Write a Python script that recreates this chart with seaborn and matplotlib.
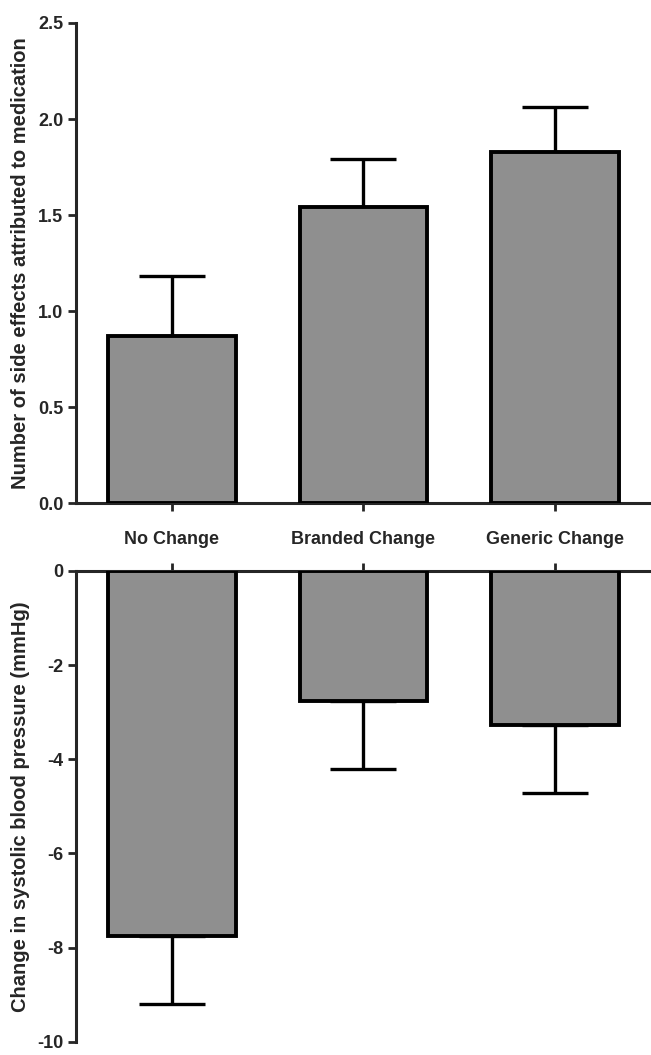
import matplotlib
matplotlib.use("Agg")
import matplotlib.pyplot as plt
import seaborn as sns
import pandas as pd

groups = ["No Change", "Branded Change", "Generic Change"]
side_effects = [0.87, 1.54, 1.83]
side_effects_err = [0.31, 0.25, 0.23]
sbp_change = [-7.75, -2.76, -3.28]
sbp_err = [1.44, 1.44, 1.44]

sns.set_style("ticks")
plt.rcParams["font.family"] = ["Liberation Sans", "DejaVu Sans"]
plt.rcParams["font.weight"] = "bold"
plt.rcParams["axes.unicode_minus"] = False

df = pd.DataFrame({"group": groups, "side": side_effects, "sbp": sbp_change})

fig = plt.figure(figsize=(6.51, 10.55), dpi=100)
ax1 = fig.add_axes([0.1167, 0.5232, 0.8833, 0.455])
ax2 = fig.add_axes([0.1167, 0.0125, 0.8833, 0.4463])

bar_col = "#8f8f8f"
for ax, col, err, sign in [(ax1, "side", side_effects_err, 1), (ax2, "sbp", sbp_err, -1)]:
    sns.barplot(data=df, x="group", y=col, ax=ax, color=bar_col, width=0.667,
                edgecolor="black", linewidth=2.8, saturation=1, errorbar=None, zorder=3)
    yerr = [[0] * 3, err] if sign > 0 else [err, [0] * 3]
    ax.errorbar(range(3), df[col], yerr=yerr, fmt="none", ecolor="black",
                elinewidth=2.4, capsize=24, capthick=2.4, zorder=2)
    ax.set_xlim(-0.5, 2.5)
    ax.set_xlabel("")
    for s in ax.spines.values():
        s.set_linewidth(2.2)
    ax.tick_params(axis="both", width=2, length=5.5)

# top panel
ax1.set_ylim(0, 2.5)
ax1.set_yticks([0, 0.5, 1.0, 1.5, 2.0, 2.5])
ax1.set_yticklabels([f"{v:.1f}" for v in [0, 0.5, 1.0, 1.5, 2.0, 2.5]], fontweight="bold", fontsize=13)
ax1.set_xticks(range(3))
ax1.set_xticklabels(groups, fontweight="bold", fontsize=13)
ax1.tick_params(axis="x", pad=15)
ax1.spines["top"].set_visible(False)
ax1.spines["right"].set_visible(False)
ax1.set_ylabel("Number of side effects attributed to medication", fontsize=14.5, fontweight="bold")
ax1.yaxis.set_label_coords(-0.08, 0.5)

# bottom panel
ax2.set_ylim(-10, 0)
ax2.set_yticks([0, -2, -4, -6, -8, -10])
ax2.set_yticklabels(["0", "-2", "-4", "-6", "-8", "-10"], fontweight="bold", fontsize=13)
ax2.set_xticks(range(3))
ax2.xaxis.tick_top()
ax2.tick_params(axis="x", labeltop=False, labelbottom=False)
ax2.spines["bottom"].set_visible(False)
ax2.spines["right"].set_visible(False)
ax2.set_ylabel("Change in systolic blood pressure (mmHg)", fontsize=14.5, fontweight="bold")
ax2.yaxis.set_label_coords(-0.08, 0.5)

fig.savefig("out.png", dpi=100)
